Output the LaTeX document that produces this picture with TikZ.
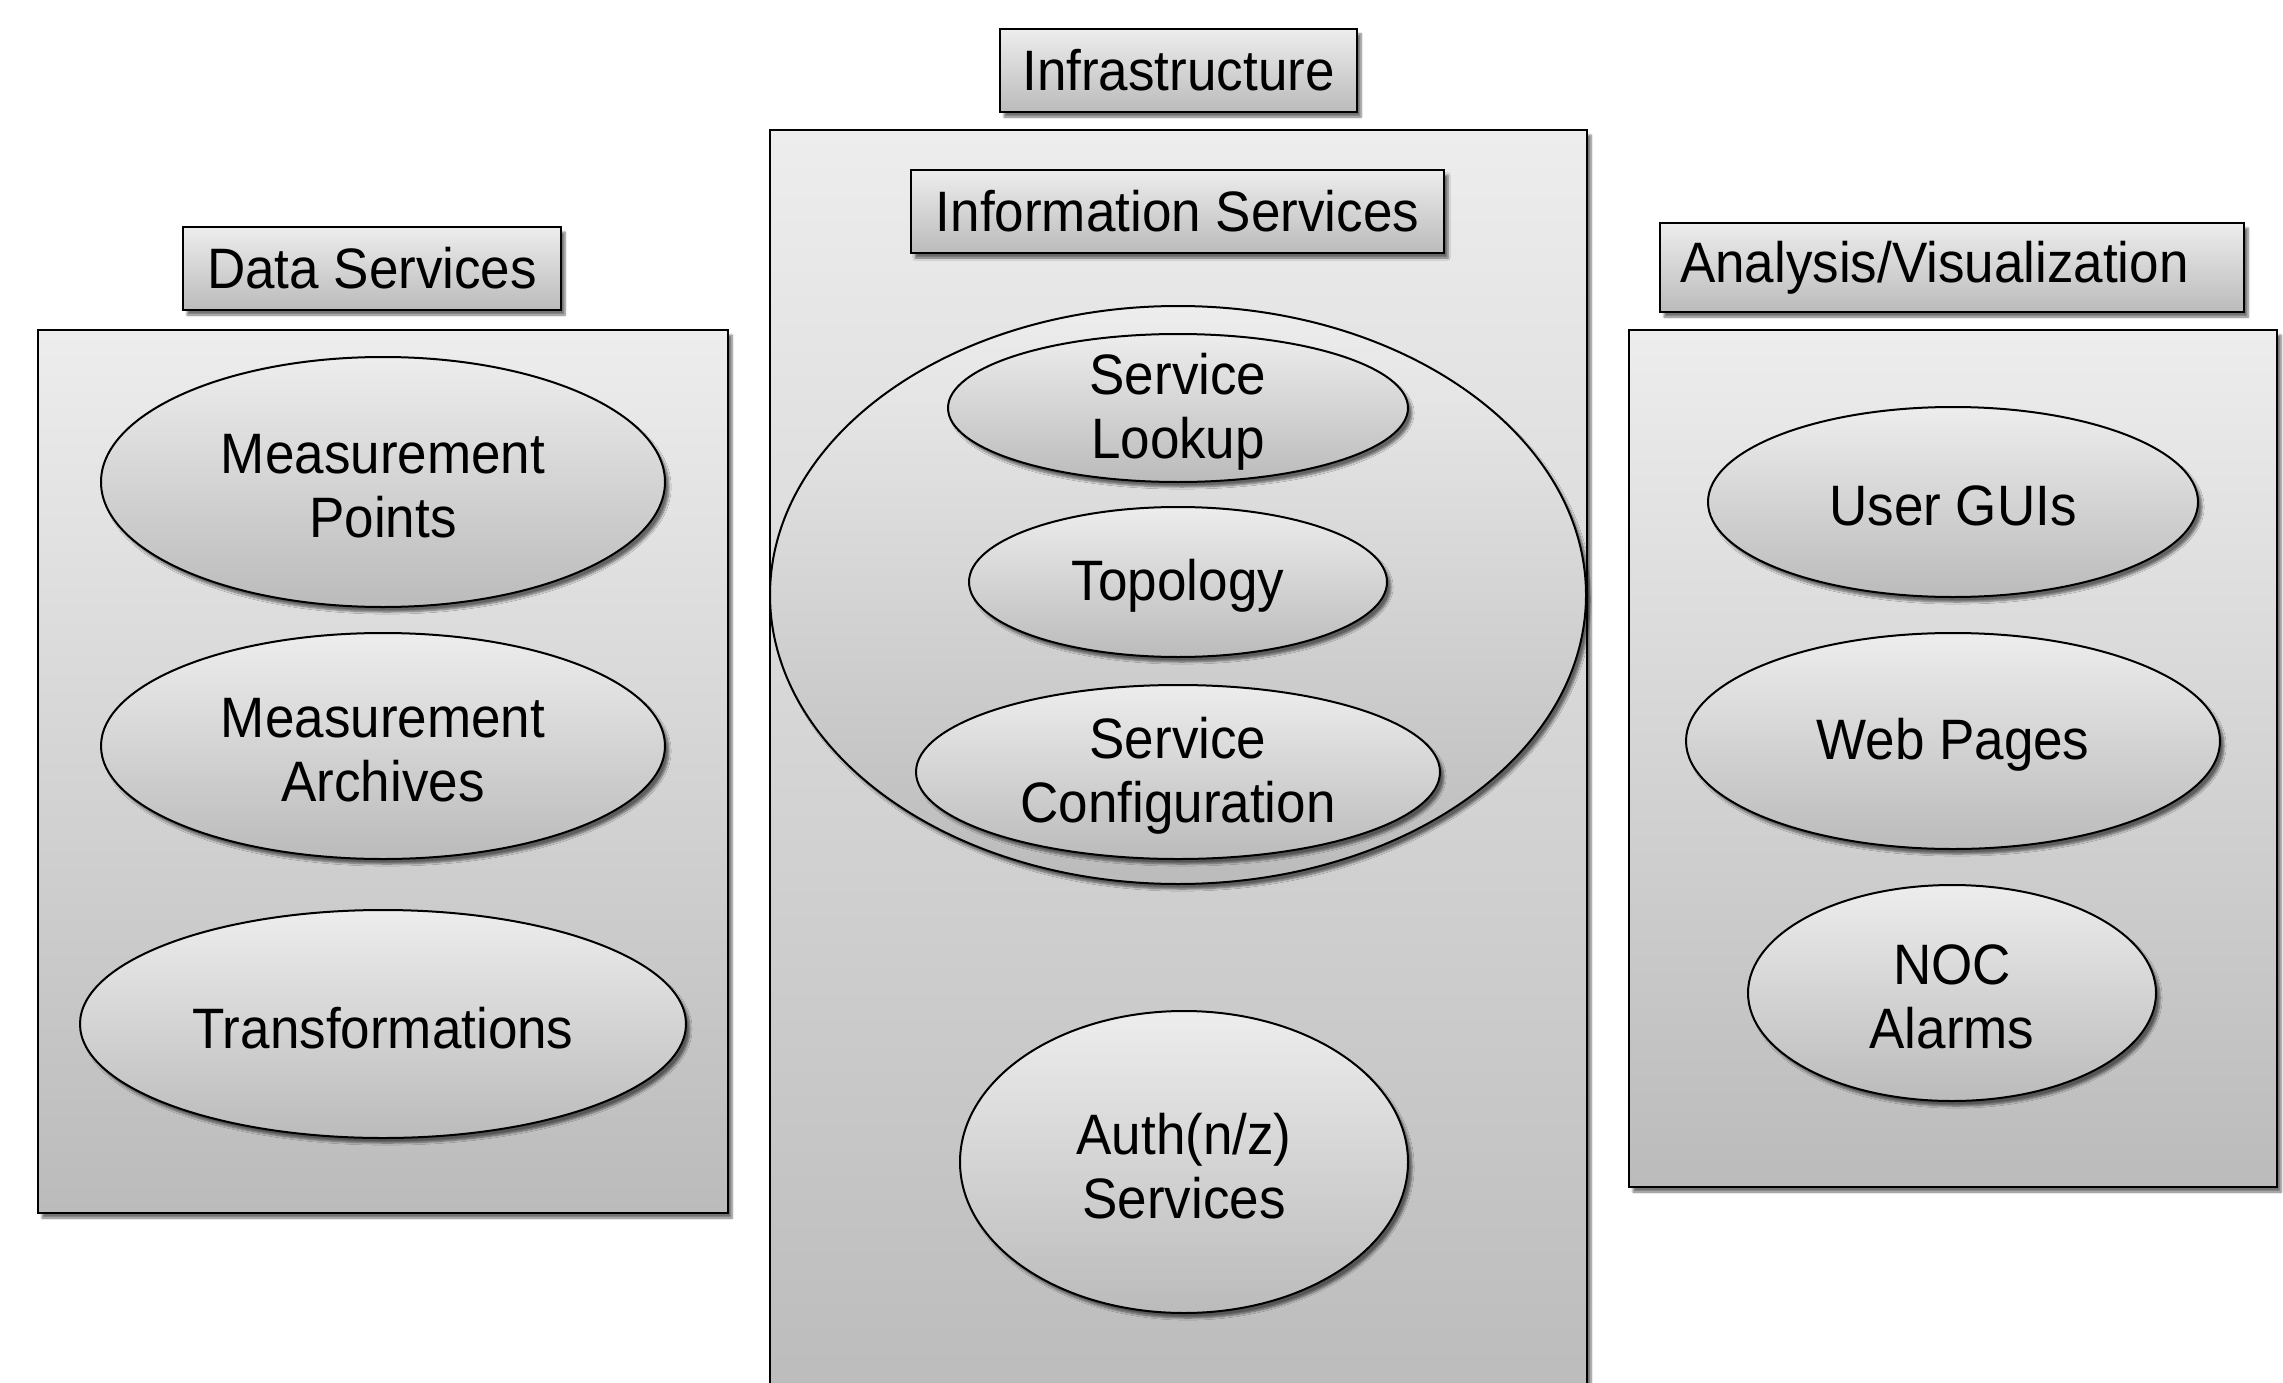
\documentclass[tikz,border=0pt]{standalone}
\usepackage{fontspec}
\setmainfont{Liberation Sans}[FakeStretch=0.93]
\usetikzlibrary{shapes.geometric,shadows.blur}
\definecolor{gtop}{HTML}{EDEDED}
\definecolor{gbot}{HTML}{BBBBBB}
\begin{document}
\begin{tikzpicture}[x=1pt,y=-1pt,
  grad/.style={top color=gtop,bottom color=gbot},
  shad/.style={blur shadow={shadow xshift=4pt,shadow yshift=-5pt,shadow blur steps=6,shadow opacity=55}},
  panel/.style={draw=black,line width=2pt,grad,shad,rectangle,inner sep=0pt},
  title/.style={draw=black,line width=2pt,grad,shad,rectangle,inner sep=0pt,font=\fontsize{57}{64}\selectfont},
  oval/.style={draw=black,line width=2pt,grad,shad,ellipse,inner sep=0pt},
  otext/.style={inner sep=0pt,align=center,yshift=-4pt,font=\fontsize{57}{64}\selectfont},
]
\useasboundingbox (0,0) rectangle (2283,1383);
\clip (0,0) rectangle (2283,1383);
% panels
\node[panel,minimum width=690pt,minimum height=883pt] (pleft) at (383,771.5) {};
\node[panel,minimum width=817pt,minimum height=1290pt] (pmid) at (1178.5,775) {};
\node[panel,minimum width=648pt,minimum height=857pt] (pright) at (1953,758.5) {};
% titles
\node[title,minimum width=357pt,minimum height=83pt] (tinfra) at (1178.5,70.5) {Infrastructure};
\node[title,minimum width=533pt,minimum height=83pt] (tinfo) at (1177.5,211.5) {Information Services};
\node[title,minimum width=378pt,minimum height=83pt] (tdata) at (372,268.5) {Data Services};
\node[title,minimum width=584pt,minimum height=89pt,text width=544pt,inner xsep=20pt,align=left] (tana) at (1952,267.5) {Analysis/Visualization};
% left ellipses
\node[oval,minimum width=564pt,minimum height=250pt] (mp) at (383,482) {};
\node[otext] (mpt) at (mp.center) {Measurement\\Points};
\node[oval,minimum width=564pt,minimum height=226pt] (ma) at (383,746) {};
\node[otext] (mat) at (ma.center) {Measurement\\Archives};
\node[oval,minimum width=606pt,minimum height=228pt] (tr) at (383,1024) {};
\node[otext] (trt) at (tr.center) {Transformations};
% center ellipses
\node[oval,minimum width=816pt,minimum height=578pt] (big) at (1178,595) {};
\node[oval,minimum width=460pt,minimum height=148pt] (sl) at (1178,408) {};
\node[otext] (slt) at (sl.center) {Service\\Lookup};
\node[oval,minimum width=418pt,minimum height=150pt] (topo) at (1178,582) {};
\node[otext] (topot) at (topo.center) {Topology};
\node[oval,minimum width=524pt,minimum height=174pt] (sc) at (1178,772) {};
\node[otext] (sct) at (sc.center) {Service\\Configuration};
\node[oval,minimum width=448pt,minimum height=302pt] (auth) at (1184,1162) {};
\node[otext] (autht) at (auth.center) {Auth(n/z)\\Services};
% right ellipses
\node[oval,minimum width=490pt,minimum height=190pt] (gui) at (1953,502) {};
\node[otext] (guit) at (gui.center) {User GUIs};
\node[oval,minimum width=534pt,minimum height=216pt] (web) at (1953,741) {};
\node[otext] (webt) at (web.center) {Web Pages};
\node[oval,minimum width=408pt,minimum height=216pt] (noc) at (1952,993) {};
\node[otext] (noct) at (noc.center) {NOC\\Alarms};
\end{tikzpicture}
\end{document}
